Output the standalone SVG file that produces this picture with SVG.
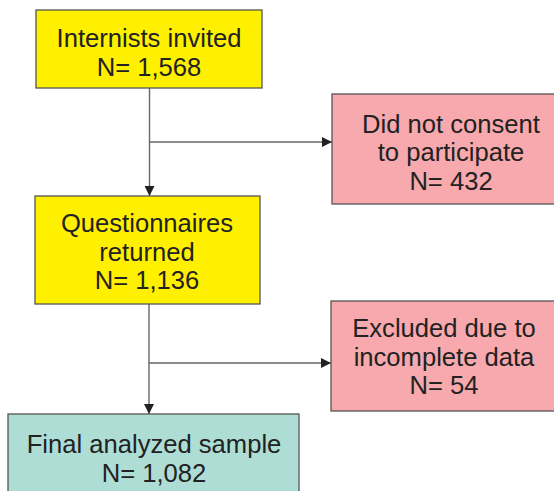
<svg xmlns="http://www.w3.org/2000/svg" width="554" height="491" viewBox="0 0 554 491">
<style>
.box{stroke:#555;stroke-width:1.3}
.y{fill:#FFF000}
.p{fill:#F7A9AD}
.t{fill:#AEDDD5}
text{font-family:"Liberation Sans",Arial,sans-serif;font-size:25.6px;fill:#222;text-anchor:middle}
.c{stroke:#666;stroke-width:1.4;fill:none}
</style>
<defs>
<marker id="ah" viewBox="0 0 10 10" refX="10" refY="5" markerWidth="10" markerHeight="10" markerUnits="userSpaceOnUse" orient="auto">
<path d="M0,0 L10,5 L0,10 Z" fill="#222"/>
</marker>
</defs>
<rect width="554" height="491" fill="#fff"/>
<g id="connectors">
<line class="c" x1="149.5" y1="88" x2="149.5" y2="196" marker-end="url(#ah)"/>
<line class="c" x1="149.5" y1="142" x2="332" y2="142" marker-end="url(#ah)"/>
<line class="c" x1="149" y1="304" x2="149" y2="414" marker-end="url(#ah)"/>
<line class="c" x1="149" y1="363" x2="331" y2="363" marker-end="url(#ah)"/>
</g>
<g id="invited">
<rect class="box y" x="36" y="10" width="226" height="78"/>
<text x="149" y="47">Internists invited</text>
<text x="149" y="76">N= 1,568</text>
</g>
<g id="noconsent">
<rect class="box p" x="332" y="94" width="240" height="110"/>
<text x="451" y="133">Did not consent</text>
<text x="451" y="161">to participate</text>
<text x="451" y="190">N= 432</text>
</g>
<g id="returned">
<rect class="box y" x="35" y="196" width="225" height="108"/>
<text x="147" y="232">Questionnaires</text>
<text x="147" y="261">returned</text>
<text x="147" y="289">N= 1,136</text>
</g>
<g id="excluded">
<rect class="box p" x="331" y="301" width="240" height="110"/>
<text x="444" y="337">Excluded due to</text>
<text x="444" y="366">incomplete data</text>
<text x="444" y="394">N= 54</text>
</g>
<g id="final">
<rect class="box t" x="8" y="414" width="291" height="90"/>
<text x="154" y="453">Final analyzed sample</text>
<text x="154" y="482">N= 1,082</text>
</g>
</svg>
